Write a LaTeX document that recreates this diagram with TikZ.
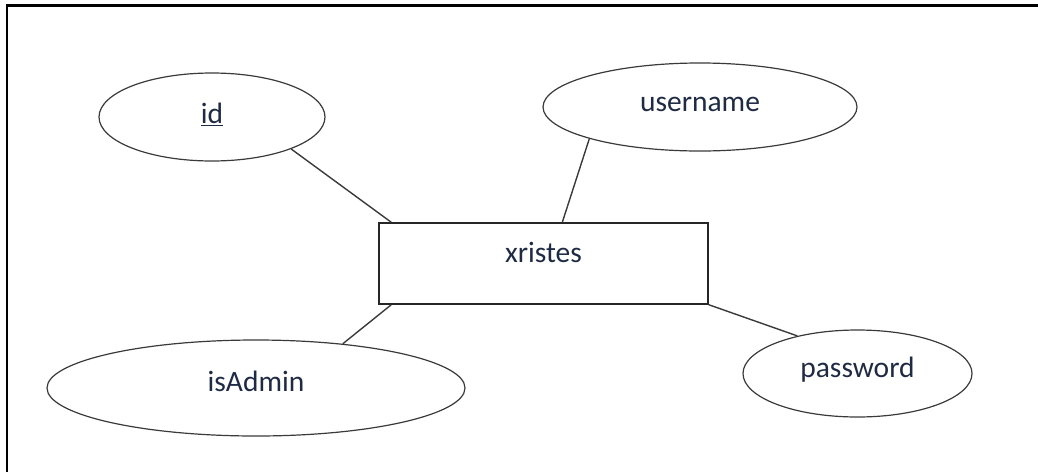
\documentclass[tikz,border=0pt]{standalone}
\usepackage{fontspec}
\setmainfont{Carlito}
\usetikzlibrary{shapes.geometric}
\definecolor{inkline}{HTML}{3A3A3A}
\definecolor{labeltext}{HTML}{1F2A44}
\tikzset{
  attr/.style={ellipse, draw=inkline, line width=1.2pt, inner sep=0pt, fill=white},
  entity/.style={rectangle, draw=black!85, line width=1.4pt, inner sep=0pt, fill=white},
  caption/.style={font=\fontsize{29.5}{33}\selectfont, text=labeltext, inner sep=0pt},
  link/.style={draw=inkline, line width=1.4pt},
}
\begin{document}
\begin{tikzpicture}[x=1pt,y=-1pt]
  \useasboundingbox (0,0) rectangle (1038,472);
  % page frame: top and left rules
  \draw[line width=2.2pt, black] (1038,5.5) -- (7,5.5) -- (7,472);

  % entity
  \node[entity, minimum width=329pt, minimum height=81pt,
        label={[caption, yshift=11pt]center:xristes}] (ent) at (543.5,263.5) {};

  % attributes
  \node[attr, minimum width=226pt, minimum height=88pt,
        label={[caption, yshift=3pt]center:\underline{id}}] (id) at (212,117) {};
  \node[attr, minimum width=314pt, minimum height=88pt,
        label={[caption, yshift=3pt]center:username}] (user) at (700,107) {};
  \node[attr, minimum width=418pt, minimum height=96pt,
        label={[caption, yshift=7pt]center:isAdmin}] (admin) at (256,388) {};
  \node[attr, minimum width=229pt, minimum height=87pt,
        label={[caption, yshift=4pt]center:password}] (pass) at (857.5,373.5) {};

  % connectors
  \coordinate (eA) at ([xshift=13pt]ent.north west);
  \coordinate (eB) at ([xshift=184pt]ent.north west);
  \coordinate (eC) at ([xshift=13pt]ent.south west);
  \draw[link] (id.-22) -- (eA);
  \draw[link] (user.196.7) -- (eB);
  \draw[link] (admin.27.9) -- (eC);
  \draw[link] (ent.south east) -- (pass.148.3);
\end{tikzpicture}
\end{document}
